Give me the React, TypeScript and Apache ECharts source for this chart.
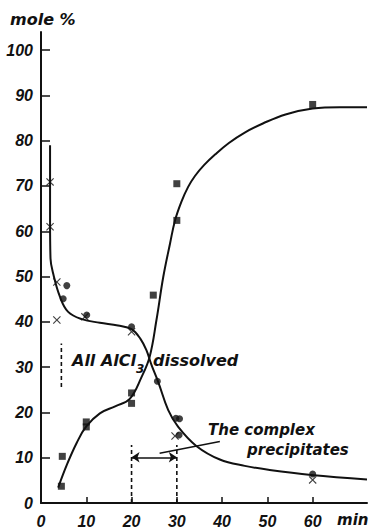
import React, { useEffect, useRef } from "react";
import * as echarts from "echarts";

// x tick labels (min) and y tick labels (mole %)
const xLabels = [0, 10, 20, 30, 40, 50, 60];
const xTicks = [10, 20, 30, 40, 50, 60];
const yLabels = [0, 10, 20, 30, 40, 50, 60, 70, 80, 90, 100];

// measured points
const squares = [
  [4.5, 3.7], [4.7, 10.3], [10, 17.9], [10, 16.8], [20, 22], [20, 24.3],
  [24.8, 45.9], [30, 70.5], [30, 62.4], [60, 88],
];
const circles = [
  [5.7, 48], [4.9, 45.1], [10.1, 41.5], [20, 38.9], [25.7, 26.9],
  [29.8, 18.7], [30.6, 18.6], [30.5, 15], [60, 6.4],
];
const crosses = [
  [2, 70.9], [2, 61], [3.5, 48.8], [3.5, 40.4], [9.7, 41.1], [20, 37.8],
  [29.6, 14.8], [60, 5.1],
];

// fitted curves
const risingCurve = [
  [3.8, 3.4], [5.7, 8.4], [7.9, 13.3], [10, 16.9], [13, 19.8], [16.5, 21.4],
  [19.6, 23], [22.2, 27.8], [24, 32.3], [25.5, 40.4], [27, 49.9], [28.5, 57.3],
  [29.6, 62.4], [31, 66.5], [32.5, 69.8], [34, 72.2], [36, 74.6], [38.5, 77],
  [41.5, 79.5], [45, 81.8], [49, 83.8], [54, 85.8], [60, 87.1], [66, 87.4],
  [72, 87.4],
];
const fallingCurve = [
  [2, 79], [2, 62], [2.1, 54], [2.7, 50.6], [4.2, 45.5], [6, 42.2], [9, 40.6],
  [13, 39.8], [17, 39.2], [20, 38.4], [22, 36.2], [23.3, 33.7], [24.4, 30.5],
  [25.9, 26.7], [28.1, 20.5], [30.3, 16.8], [34.3, 12.6], [39.5, 9.6],
  [45, 8.2], [50.5, 7.3], [59.7, 6.2], [72, 5.2],
];

// annotation geometry in data units
const dissolvedMark = [[4.5, 25.6], [4.5, 35.2]];
const dashed20 = [[20, 0], [20, 12.8]];
const dashed30 = [[30, 0], [30, 12.8]];
const arrowSpan = [[20, 10.1], [30, 10.1]];
const leader = [[26.2, 11], [39.5, 13.6]];

const INK = "#111";
const crossPath =
  "path://M1,0L5,4L9,0L10,1L6,5L10,9L9,10L5,6L1,10L0,9L4,5L0,1Z";

export default function App() {
  const ref = useRef<HTMLDivElement>(null);
  useEffect(() => {
    if (!ref.current) return;
    const chart = echarts.init(ref.current, null, { renderer: "svg" });
    const tickFont = {
      fontFamily: "Liberation Sans",
      fontStyle: "italic" as const,
      fontWeight: "bold" as const,
      fontSize: 16,
      color: INK,
    };
    const textFont = {
      fontFamily: "DejaVu Sans",
      fontStyle: "italic",
      fontWeight: "bold",
      fill: INK,
    };
    const dashedStyle = { color: INK, width: 1.6, type: [4, 3] as number[] };
    chart.setOption({
      animation: false,
      backgroundColor: "#fff",
      grid: { left: 41, right: 2, top: 32, bottom: 27 },
      xAxis: {
        type: "value",
        min: 0,
        max: 72,
        interval: 10,
        splitLine: { show: false },
        axisLine: { lineStyle: { color: INK, width: 2 } },
        axisTick: {
          inside: true,
          length: 6,
          customValues: xTicks,
          lineStyle: { color: INK, width: 1.5 },
        },
        axisLabel: { ...tickFont, margin: 10, customValues: xLabels },
      },
      yAxis: {
        type: "value",
        min: 0,
        max: 104,
        interval: 10,
        splitLine: { show: false },
        axisLine: { lineStyle: { color: INK, width: 2 } },
        axisTick: {
          inside: true,
          length: 9,
          customValues: yLabels,
          lineStyle: { color: INK, width: 1.5 },
        },
        axisLabel: { ...tickFont, margin: 8, customValues: yLabels },
      },
      series: [
        {
          type: "line",
          data: risingCurve,
          smooth: 0.4,
          symbol: "none",
          lineStyle: { color: INK, width: 2 },
          z: 2,
        },
        {
          type: "line",
          data: fallingCurve,
          smooth: 0.4,
          symbol: "none",
          lineStyle: { color: INK, width: 2 },
          z: 2,
        },
        {
          type: "line",
          data: dissolvedMark,
          symbol: "none",
          lineStyle: dashedStyle,
        },
        {
          type: "line",
          data: dashed20,
          symbol: "none",
          lineStyle: dashedStyle,
        },
        {
          type: "line",
          data: dashed30,
          symbol: "none",
          lineStyle: dashedStyle,
          markLine: {
            silent: true,
            animation: false,
            label: { show: false },
            lineStyle: { color: INK, width: 1.5, type: "solid" },
            data: [
              [
                { coord: arrowSpan[0], symbol: "arrow", symbolSize: 8 },
                { coord: arrowSpan[1], symbol: "arrow", symbolSize: 8 },
              ],
              [
                { coord: leader[0], symbol: "none" },
                { coord: leader[1], symbol: "none" },
              ],
            ],
          },
        },
        {
          type: "scatter",
          data: squares,
          symbol: "rect",
          symbolSize: 7,
          itemStyle: { color: INK },
          z: 5,
        },
        {
          type: "scatter",
          data: circles,
          symbol: "circle",
          symbolSize: 7,
          itemStyle: { color: INK },
          z: 5,
        },
        {
          type: "scatter",
          data: crosses,
          symbol: crossPath,
          symbolSize: 8,
          itemStyle: { color: INK },
          z: 5,
        },
      ],
      graphic: [
        {
          type: "text",
          x: 10,
          y: 19,
          style: { ...textFont, text: "mole %", fontSize: 16, verticalAlign: "middle" },
        },
        {
          type: "text",
          x: 337,
          y: 520,
          style: { ...textFont, text: "min", fontSize: 15, verticalAlign: "middle" },
        },
        {
          type: "text",
          x: 72,
          y: 360,
          style: { ...textFont, text: "All AlCl", fontSize: 16, verticalAlign: "middle" },
        },
        {
          type: "text",
          x: 136,
          y: 369,
          style: { ...textFont, text: "3", fontSize: 12, verticalAlign: "middle" },
        },
        {
          type: "text",
          x: 153,
          y: 360,
          style: { ...textFont, text: "dissolved", fontSize: 16, verticalAlign: "middle" },
        },
        {
          type: "text",
          x: 208,
          y: 430,
          style: { ...textFont, text: "The complex", fontSize: 15, verticalAlign: "middle" },
        },
        {
          type: "text",
          x: 247,
          y: 450,
          style: { ...textFont, text: "precipitates", fontSize: 15, verticalAlign: "middle" },
        },
      ],
    });
    return () => chart.dispose();
  }, []);
  return (
    <div
      ref={ref}
      style={{ position: "fixed", left: 0, top: 0, width: 369, height: 530 }}
    />
  );
}
